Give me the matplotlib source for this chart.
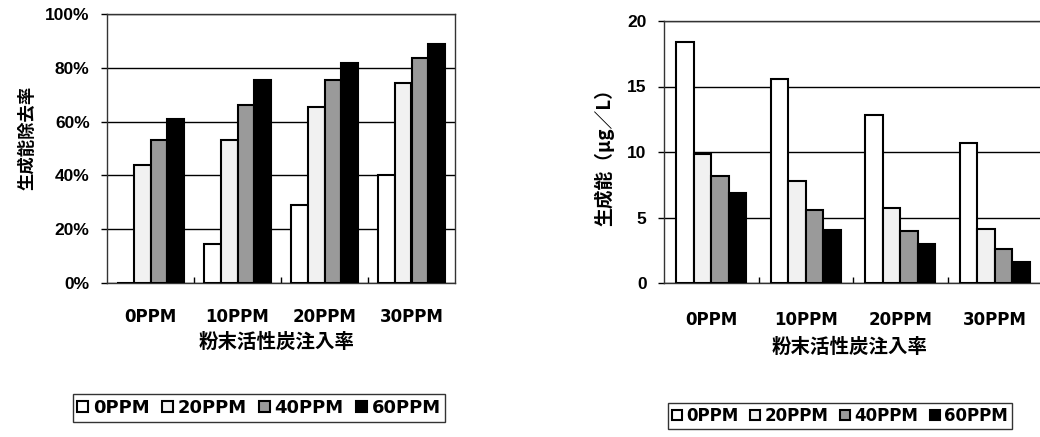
import matplotlib
matplotlib.use("Agg")
import matplotlib.pyplot as plt
import numpy as np
from matplotlib.patches import Patch

# ---- data ----
categories = ["0PPM", "10PPM", "20PPM", "30PPM"]
series = ["0PPM", "20PPM", "40PPM", "60PPM"]
removal = {  # %
    "0PPM": [0, 14.5, 29, 40.3],
    "20PPM": [44, 53, 65.3, 74.5],
    "40PPM": [53, 66, 75.5, 83.5],
    "60PPM": [60.8, 75.5, 81.8, 89],
}
potential = {  # ug/L
    "0PPM": [18.4, 15.6, 12.8, 10.7],
    "20PPM": [9.85, 7.8, 5.7, 4.1],
    "40PPM": [8.2, 5.6, 4.0, 2.6],
    "60PPM": [6.9, 4.05, 3.0, 1.6],
}
left_yticks = [0, 20, 40, 60, 80, 100]
left_yticklabels = ["0%", "20%", "40%", "60%", "80%", "100%"]
right_yticks = [0, 5, 10, 15, 20]
ylabel_left = "生成能除去率"
ylabel_right = "生成能（μg／L）"
xlabel = "粉末活性炭注入率"

fills = {"0PPM": "white", "20PPM": "#f1f1f1", "40PPM": "#9a9a9a", "60PPM": "black"}

W, H = 1040, 437
fig = plt.figure(figsize=(W / 100, H / 100), dpi=100)

CJK = ["Noto Sans CJK JP", "DejaVu Sans"]

def px_ax(l, r, t, b):
    return fig.add_axes([l / W, 1 - b / H, (r - l) / W, (b - t) / H])

def draw(ax, data, width, ylim, yticks, yticklabels, pad_pts):
    x = np.arange(len(categories))
    for i, s in enumerate(series):
        ax.bar(x + (i - 1.5) * width, data[s], width, color=fills[s],
               edgecolor="black", linewidth=1.5, zorder=3)
    ax.set_xlim(-0.5, len(categories) - 0.5)
    ax.set_ylim(*ylim)
    ax.set_yticks(yticks)
    ax.set_yticklabels(yticklabels, fontfamily="Liberation Sans",
                       fontweight="bold", fontsize=12.5)
    ax.set_xticks(x)
    ax.set_xticklabels(categories, fontfamily="DejaVu Sans",
                       fontweight="bold", fontsize=12)
    ax.set_xticks(np.arange(0.5, len(categories) - 0.5, 1.0), minor=True)
    ax.tick_params(axis="x", which="major", length=0, pad=pad_pts)
    ax.tick_params(axis="x", which="minor", direction="in", length=4,
                   width=1, color="black")
    ax.tick_params(axis="y", which="major", direction="out", length=4,
                   width=1, pad=8.5)
    ax.yaxis.grid(True, color="black", linewidth=1.0, zorder=0)
    ax.set_axisbelow(True)
    for sp in ax.spines.values():
        sp.set_linewidth(1.0)
        sp.set_color("#333333")

axL = px_ax(107, 455, 14, 283)
draw(axL, removal, 0.19, (0, 100), left_yticks, left_yticklabels, 18)
axR = px_ax(664, 1042, 21, 283)
draw(axR, potential, 0.186, (0, 20), right_yticks,
     [str(v) for v in right_yticks], 20)

# axis labels
fig.text(27 / W, 1 - 138 / H, ylabel_left, rotation=90, ha="center",
         va="center", family=CJK, fontweight="bold", fontsize=12.5)
fig.text(604 / W, 1 - 153 / H, ylabel_right, rotation=90, ha="center",
         va="center", family=CJK, fontweight="bold", fontsize=13.5)
fig.text(277 / W, 1 - 342 / H, xlabel, ha="center", va="center",
         family=CJK, fontweight="bold", fontsize=14)
fig.text(850 / W, 1 - 347 / H, xlabel, ha="center", va="center",
         family=CJK, fontweight="bold", fontsize=14)

handles = [Patch(facecolor=fills[s], edgecolor="black", linewidth=1.5,
                 label=s) for s in series]

def legend(cx, cy, fs, colsp):
    leg = fig.legend(handles=handles, loc="center",
                     bbox_to_anchor=(cx / W, 1 - cy / H), ncol=4,
                     prop={"family": "DejaVu Sans", "weight": "bold",
                           "size": fs},
                     frameon=True, fancybox=False, handlelength=0.6,
                     handleheight=0.6, handletextpad=0.25,
                     columnspacing=colsp, borderpad=0.25,
                     borderaxespad=0)
    fr = leg.get_frame()
    fr.set_edgecolor("black")
    fr.set_linewidth(1.0)
    return leg

legend(259, 408, 13, 0.7)
legend(840, 416, 12, 0.7)

fig.savefig("out.png", dpi=100)
